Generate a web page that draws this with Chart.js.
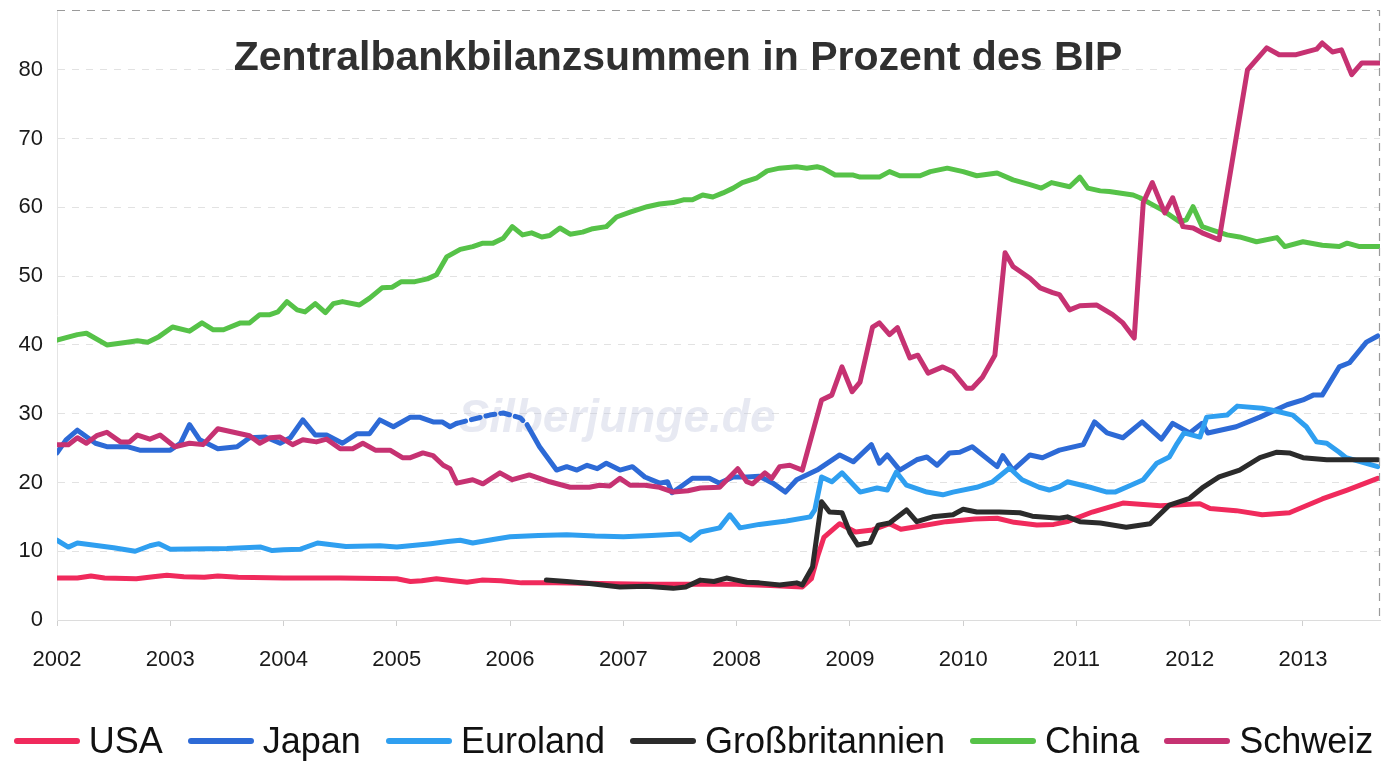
<!DOCTYPE html>
<html lang="de">
<head>
    <meta charset="UTF-8">
    <title>Zentralbankbilanzsummen in Prozent des BIP</title>
    <style>
        body { margin: 0; background: #fff; font-family: 'Liberation Sans', Arial, sans-serif; }
        #wrap { position: relative; width: 1387px; height: 767px; }
        #legend {
            position: absolute; left: 0; top: 717px; width: 1387px; height: 48px;
            display: flex; justify-content: center; gap: 25px;
            font-size: 36px; line-height: 48px; color: #111;
        }
        #legend .item { display: flex; align-items: center; white-space: nowrap; }
        #legend .sw { display: inline-block; width: 66px; height: 6px; border-radius: 3px; margin-right: 9px; }
    </style>
</head>
<body>
<div id="wrap">
    <canvas id="chart" width="1387" height="767"></canvas>
    <div id="legend"></div>
</div>

<script src="https://cdn.jsdelivr.net/npm/chart.js@4.4.1/dist/chart.umd.min.js"></script>
<script>
    // tick labels
    const years = [2002, 2003, 2004, 2005, 2006, 2007, 2008, 2009, 2010, 2011, 2012, 2013];
    const yTicks = [0, 10, 20, 30, 40, 50, 60, 70, 80];

    // [Jahr, Prozent des BIP]
    const usa = [[2002.00,6.1],[2002.18,6.1],[2002.30,6.4],[2002.42,6.1],[2002.70,6.0],[2002.85,6.3],[2002.97,6.5],
        [2003.12,6.3],[2003.30,6.2],[2003.42,6.4],[2003.60,6.2],[2004.00,6.1],[2004.50,6.1],[2005.00,6.0],[2005.12,5.6],
        [2005.22,5.7],[2005.35,6.0],[2005.50,5.7],[2005.62,5.5],[2005.75,5.8],[2005.92,5.7],[2006.10,5.4],[2006.40,5.4],
        [2006.80,5.3],[2007.20,5.2],[2007.60,5.2],[2008.00,5.2],[2008.30,5.0],[2008.58,4.8],[2008.66,6.0],[2008.72,9.5],
        [2008.77,12.0],[2008.91,14.0],[2009.05,12.8],[2009.20,13.1],[2009.35,14.0],[2009.45,13.2],[2009.60,13.6],
        [2009.85,14.3],[2010.10,14.7],[2010.30,14.8],[2010.45,14.2],[2010.65,13.8],[2010.80,13.9],[2010.92,14.3],
        [2011.14,15.7],[2011.41,17.0],[2011.74,16.6],[2012.09,16.9],[2012.18,16.2],[2012.41,15.9],[2012.64,15.3],
        [2012.88,15.6],[2013.17,17.6],[2013.39,18.9],[2013.66,20.6]];

    const japan = [[2002.00,24.3],[2002.08,26.2],[2002.18,27.6],[2002.34,25.7],[2002.44,25.2],[2002.62,25.2],[2002.73,24.7],
        [2003.00,24.7],[2003.09,25.7],[2003.17,28.4],[2003.26,26.2],[2003.42,24.9],[2003.59,25.2],[2003.70,26.5],
        [2003.84,26.6],[2003.97,25.7],[2004.06,26.5],[2004.17,29.1],[2004.28,26.9],[2004.38,26.9],[2004.52,25.7],
        [2004.65,27.1],[2004.76,27.1],[2004.85,29.1],[2004.97,28.1],[2005.12,29.5],[2005.20,29.5],[2005.32,28.8],
        [2005.40,28.8],[2005.47,28.1],[2005.53,28.6],[2005.65,29.1],[2005.82,29.8],[2005.94,30.1],[2006.09,29.4],
        [2006.15,28.4],[2006.26,25.2],[2006.41,21.8],[2006.50,22.3],[2006.59,21.8],[2006.68,22.5],[2006.77,22.0],
        [2006.85,22.8],[2006.97,21.8],[2007.08,22.3],[2007.19,20.8],[2007.32,19.9],[2007.39,20.1],[2007.43,18.5],
        [2007.50,19.3],[2007.61,20.6],[2007.76,20.6],[2007.85,19.9],[2007.97,20.8],[2008.09,20.8],[2008.20,20.9],
        [2008.32,19.9],[2008.43,18.6],[2008.53,20.4],[2008.71,21.8],[2008.91,24.0],[2009.03,23.0],[2009.19,25.5],
        [2009.26,22.8],[2009.33,24.0],[2009.44,21.8],[2009.59,23.3],[2009.68,23.7],[2009.77,22.5],[2009.88,24.3],
        [2009.97,24.4],[2010.08,25.2],[2010.30,22.3],[2010.35,23.9],[2010.44,21.8],[2010.59,24.0],[2010.70,23.6],
        [2010.85,24.7],[2011.06,25.5],[2011.16,28.8],[2011.27,27.2],[2011.41,26.5],[2011.58,28.8],[2011.75,26.3],
        [2011.85,28.6],[2012.00,27.2],[2012.11,28.6],[2012.16,27.2],[2012.41,28.1],[2012.62,29.5],[2012.86,31.3],
        [2013.00,32.0],[2013.09,32.7],[2013.17,32.7],[2013.32,36.8],[2013.41,37.4],[2013.56,40.4],[2013.66,41.3]];

    const euroland = [[2002.00,11.6],[2002.10,10.6],[2002.18,11.2],[2002.50,10.5],[2002.69,10.0],[2002.82,10.8],
        [2002.90,11.1],[2003.00,10.3],[2003.50,10.4],[2003.80,10.6],[2003.90,10.1],[2004.00,10.2],[2004.15,10.3],
        [2004.30,11.2],[2004.55,10.7],[2004.85,10.8],[2005.00,10.6],[2005.30,11.1],[2005.45,11.4],[2005.56,11.6],
        [2005.67,11.2],[2005.85,11.7],[2006.00,12.1],[2006.25,12.3],[2006.50,12.4],[2006.75,12.2],[2007.00,12.1],
        [2007.25,12.3],[2007.50,12.5],[2007.59,11.6],[2007.68,12.8],[2007.85,13.4],[2007.94,15.3],[2008.03,13.4],
        [2008.20,13.9],[2008.44,14.4],[2008.65,15.0],[2008.69,16.0],[2008.75,20.8],[2008.84,20.1],[2008.93,21.4],
        [2009.09,18.6],[2009.24,19.2],[2009.33,18.9],[2009.41,21.5],[2009.50,19.6],[2009.68,18.6],[2009.82,18.2],
        [2009.91,18.6],[2010.12,19.3],[2010.26,20.1],[2010.41,22.1],[2010.52,20.4],[2010.67,19.3],[2010.76,18.9],
        [2010.85,19.4],[2010.92,20.1],[2011.12,19.3],[2011.27,18.6],[2011.34,18.6],[2011.44,19.3],[2011.59,20.4],
        [2011.71,22.8],[2011.82,23.7],[2011.89,25.7],[2011.95,27.2],[2012.09,26.6],[2012.15,29.5],[2012.33,29.8],
        [2012.42,31.1],[2012.64,30.8],[2012.73,30.5],[2012.91,29.8],[2013.03,28.1],[2013.12,25.9],[2013.21,25.7],
        [2013.32,24.4],[2013.38,23.6],[2013.66,22.3]];

    const gb = [[2006.32,5.8],[2006.50,5.6],[2006.70,5.3],[2006.97,4.8],[2007.20,4.9],[2007.44,4.6],[2007.55,4.8],
        [2007.68,5.8],[2007.80,5.6],[2007.91,6.1],[2008.00,5.8],[2008.09,5.5],[2008.20,5.4],[2008.38,5.1],[2008.53,5.4],
        [2008.58,5.1],[2008.67,7.7],[2008.75,17.2],[2008.82,15.7],[2008.93,15.6],[2009.00,12.7],[2009.07,10.9],
        [2009.18,11.3],[2009.25,13.8],[2009.35,14.1],[2009.50,16.0],[2009.59,14.3],[2009.73,15.0],[2009.91,15.3],
        [2010.00,16.1],[2010.12,15.7],[2010.32,15.7],[2010.50,15.6],[2010.61,15.1],[2010.85,14.8],[2010.92,15.0],
        [2011.03,14.3],[2011.21,14.1],[2011.44,13.5],[2011.65,14.0],[2011.82,16.7],[2012.00,17.7],[2012.11,19.2],
        [2012.26,20.8],[2012.44,21.8],[2012.62,23.6],[2012.77,24.4],[2012.88,24.3],[2013.00,23.6],[2013.21,23.3],
        [2013.66,23.3]];

    const china = [[2002.00,40.7],[2002.18,41.5],[2002.26,41.7],[2002.44,40.0],[2002.62,40.4],[2002.71,40.6],
        [2002.80,40.4],[2002.90,41.2],[2003.02,42.6],[2003.17,42.0],[2003.28,43.2],[2003.38,42.2],[2003.47,42.2],
        [2003.62,43.2],[2003.70,43.2],[2003.79,44.4],[2003.88,44.4],[2003.95,44.8],[2004.03,46.3],[2004.12,45.1],
        [2004.19,44.8],[2004.28,46.0],[2004.37,44.7],[2004.44,46.0],[2004.52,46.3],[2004.67,45.8],[2004.76,46.8],
        [2004.87,48.3],[2004.96,48.4],[2005.04,49.2],[2005.16,49.2],[2005.27,49.6],[2005.35,50.2],[2005.44,52.8],
        [2005.56,53.9],[2005.67,54.3],[2005.76,54.8],[2005.85,54.8],[2005.94,55.5],[2006.02,57.2],[2006.11,56.0],
        [2006.19,56.3],[2006.28,55.7],[2006.35,55.9],[2006.44,57.0],[2006.53,56.1],[2006.64,56.4],[2006.73,56.9],
        [2006.85,57.2],[2006.94,58.6],[2007.06,59.3],[2007.21,60.1],[2007.32,60.5],[2007.44,60.7],[2007.53,61.1],
        [2007.61,61.1],[2007.70,61.8],[2007.79,61.5],[2007.88,62.1],[2007.97,62.8],[2008.05,63.6],[2008.18,64.3],
        [2008.27,65.3],[2008.38,65.7],[2008.53,65.9],[2008.62,65.7],[2008.71,65.9],[2008.76,65.7],[2008.87,64.7],
        [2009.03,64.7],[2009.09,64.4],[2009.26,64.4],[2009.35,65.2],[2009.44,64.6],[2009.62,64.6],[2009.71,65.2],
        [2009.86,65.7],[2010.00,65.2],[2010.12,64.6],[2010.30,65.0],[2010.44,64.0],[2010.59,63.3],[2010.69,62.8],
        [2010.78,63.6],[2010.94,63.0],[2011.03,64.4],[2011.10,62.8],[2011.21,62.4],[2011.29,62.3],[2011.38,62.1],
        [2011.50,61.8],[2011.56,61.4],[2011.67,60.4],[2011.76,59.6],[2011.91,57.9],[2011.97,58.2],[2012.03,60.1],
        [2012.11,57.2],[2012.20,56.7],[2012.33,56.0],[2012.44,55.7],[2012.59,55.0],[2012.77,55.6],[2012.84,54.3],
        [2013.00,55.0],[2013.17,54.5],[2013.32,54.3],[2013.39,54.8],[2013.50,54.3],[2013.68,54.3]];

    const schweiz = [[2002.00,25.5],[2002.10,25.5],[2002.18,26.5],[2002.26,25.7],[2002.35,26.8],[2002.44,27.3],
        [2002.56,25.9],[2002.64,25.9],[2002.71,26.9],[2002.82,26.3],[2002.91,26.9],[2003.04,25.2],[2003.17,25.7],
        [2003.29,25.5],[2003.42,27.8],[2003.59,27.2],[2003.70,26.8],[2003.79,25.7],[2003.88,26.5],[2003.97,26.6],
        [2004.08,25.5],[2004.17,26.2],[2004.29,25.9],[2004.38,26.3],[2004.50,24.9],[2004.61,24.9],[2004.70,25.7],
        [2004.81,24.7],[2004.94,24.7],[2005.05,23.6],[2005.12,23.6],[2005.23,24.3],[2005.32,23.9],[2005.41,22.5],
        [2005.47,22.0],[2005.53,19.9],[2005.67,20.4],[2005.76,19.8],[2005.91,21.4],[2006.02,20.4],[2006.17,21.1],
        [2006.35,20.1],[2006.53,19.3],[2006.70,19.3],[2006.79,19.6],[2006.88,19.5],[2006.97,20.6],[2007.06,19.6],
        [2007.19,19.6],[2007.32,19.3],[2007.44,18.6],[2007.57,18.8],[2007.68,19.2],[2007.85,19.3],[2008.01,22.0],
        [2008.09,20.1],[2008.14,19.8],[2008.25,21.4],[2008.31,20.6],[2008.38,22.3],[2008.47,22.5],[2008.58,21.8],
        [2008.75,32.0],[2008.84,32.7],[2008.93,36.8],[2009.02,33.2],[2009.09,34.6],[2009.20,42.6],[2009.26,43.2],
        [2009.35,41.5],[2009.42,42.5],[2009.53,38.1],[2009.60,38.5],[2009.69,35.9],[2009.82,36.8],[2009.91,36.1],
        [2010.03,33.7],[2010.08,33.7],[2010.17,35.3],[2010.28,38.5],[2010.37,53.4],[2010.44,51.4],[2010.59,49.7],
        [2010.68,48.3],[2010.79,47.6],[2010.85,47.3],[2010.94,45.1],[2011.03,45.7],[2011.18,45.8],[2011.32,44.4],
        [2011.41,43.2],[2011.51,41.0],[2011.59,60.7],[2011.67,63.6],[2011.78,59.2],[2011.85,61.4],[2011.94,57.2],
        [2012.03,57.0],[2012.11,56.3],[2012.26,55.3],[2012.51,80.0],[2012.68,83.2],[2012.79,82.2],[2012.94,82.2],
        [2013.03,82.6],[2013.12,83.0],[2013.17,83.9],[2013.26,82.6],[2013.34,82.9],[2013.43,79.3],[2013.52,81.0],
        [2013.68,81.0]];

    const pts = arr => arr.map(([x, y]) => ({ x, y }));

    // the scanned original shows Japan dashed where the watermark sits
    const japanDash = ctx => (ctx.p0.parsed.x >= 2005.5 && ctx.p1.parsed.x <= 2006.16) ? [9, 6] : undefined;

    const series = [
        { label: 'USA', data: pts(usa), borderColor: '#f02a5c', order: 6 },
        { label: 'Japan', data: pts(japan), borderColor: '#2d6ad6', order: 5, segment: { borderDash: japanDash } },
        { label: 'Euroland', data: pts(euroland), borderColor: '#2f9ff0', order: 4 },
        { label: 'Großbritannien', data: pts(gb), borderColor: '#2b2b2b', order: 3 },
        { label: 'China', data: pts(china), borderColor: '#56c248', order: 2 },
        { label: 'Schweiz', data: pts(schweiz), borderColor: '#c63272', order: 1 }
    ];

    const fontFamily = "'Liberation Sans', Arial, sans-serif";
    Chart.defaults.font.family = fontFamily;

    const decor = {
        id: 'decor',
        beforeDatasetsDraw(chart) {
            const { ctx } = chart;
            ctx.save();
            ctx.font = 'italic bold 46px ' + fontFamily;
            ctx.fillStyle = 'rgba(196, 200, 222, 0.4)';
            ctx.textAlign = 'center';
            ctx.fillText('Silberjunge.de', 617, 432);
            ctx.restore();
        },
        afterDraw(chart) {
            const { ctx, chartArea: a } = chart;
            ctx.save();
            ctx.strokeStyle = '#9a9a9a';
            ctx.lineWidth = 1.2;
            ctx.setLineDash([8, 7]);
            ctx.beginPath();
            ctx.moveTo(a.left, a.top + 0.5);
            ctx.lineTo(a.right - 0.5, a.top + 0.5);
            ctx.lineTo(a.right - 0.5, a.bottom);
            ctx.stroke();
            ctx.setLineDash([]);
            ctx.font = 'bold 41px ' + fontFamily;
            ctx.fillStyle = '#303030';
            ctx.textAlign = 'center';
            ctx.textBaseline = 'alphabetic';
            ctx.fillText('Zentralbankbilanzsummen in Prozent des BIP', 678, 70);
            ctx.restore();
        }
    };

    const chart = new Chart(document.getElementById('chart'), {
        type: 'line',
        data: {
            datasets: series.map(s => Object.assign({
                borderWidth: 5,
                pointRadius: 0,
                tension: 0,
                fill: false,
                borderJoinStyle: 'round',
                borderCapStyle: 'round'
            }, s))
        },
        options: {
            responsive: false,
            animation: false,
            devicePixelRatio: 1,
            layout: { padding: { top: 10, right: 7, bottom: 87, left: 0 } },
            plugins: {
                legend: { display: false },
                tooltip: { enabled: false }
            },
            scales: {
                x: {
                    type: 'linear',
                    min: 2002,
                    max: 2013.68,
                    afterBuildTicks: scale => { scale.ticks = years.map(v => ({ value: v })); },
                    afterFit: scale => { scale.height = 60; },
                    grid: { drawOnChartArea: false, tickLength: 6, color: '#cfcfcf' },
                    border: { color: '#dcdcdc' },
                    ticks: { font: { size: 22 }, color: '#1a1a1a', padding: 21, maxRotation: 0, callback: v => String(v) }
                },
                y: {
                    min: 0,
                    max: 88.7,
                    afterBuildTicks: scale => { scale.ticks = yTicks.map(v => ({ value: v })); },
                    afterFit: scale => { scale.width = 57; scale.paddingTop = 0; scale.paddingBottom = 0; },
                    grid: { color: '#e2e2e2', tickLength: 0 },
                    border: { color: '#e4e4e4', dash: [7, 7] },
                    ticks: { font: { size: 22 }, color: '#1a1a1a', padding: 14 }
                }
            }
        },
        plugins: [decor]
    });

    // legend as html below the plot
    document.getElementById('legend').innerHTML = chart.data.datasets.map(d =>
        '<span class="item"><span class="sw" style="background:' + d.borderColor + '"></span>' + d.label + '</span>'
    ).join('');
</script>
</body>
</html>
